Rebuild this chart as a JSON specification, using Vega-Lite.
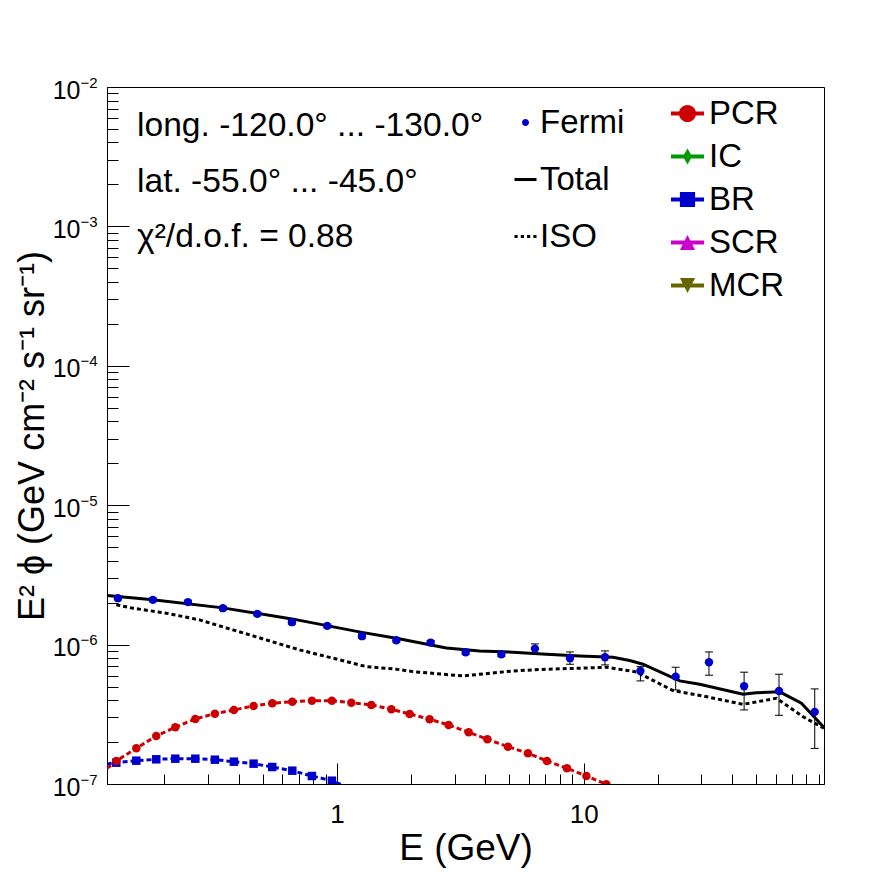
{
  "$schema": "https://vega.github.io/schema/vega-lite/v6.json",
  "width": 717,
  "height": 697,
  "autosize": {"type": "none"},
  "padding": {"left": 107, "top": 87, "right": 72, "bottom": 88},
  "background": "white",
  "config": {
    "view": {"stroke": "black", "strokeWidth": 1},
    "font": "Liberation Sans"
  },
  "title": {
    "text": ["long. -120.0° ... -130.0°", "lat. -55.0° ... -45.0°", "χ²/d.o.f. = 0.88"],
    "anchor": "start",
    "frame": "group",
    "orient": "top",
    "offset": 0,
    "dx": 30,
    "dy": 206,
    "baseline": "alphabetic",
    "lineHeight": 55.5,
    "fontSize": 33.6,
    "font": "Liberation Sans",
    "fontWeight": "normal",
    "color": "black"
  },
  "datasets": {
    "fermi": [
      {"s": "Fermi", "E": 0.1295, "v": 2.153e-6, "lo": 2.09e-6, "hi": 2.22e-6},
      {"s": "Fermi", "E": 0.1795, "v": 2.094e-6, "lo": 2.03e-6, "hi": 2.16e-6},
      {"s": "Fermi", "E": 0.2489, "v": 2.016e-6, "lo": 1.96e-6, "hi": 2.08e-6},
      {"s": "Fermi", "E": 0.345, "v": 1.825e-6, "lo": 1.77e-6, "hi": 1.88e-6},
      {"s": "Fermi", "E": 0.4757, "v": 1.661e-6, "lo": 1.61e-6, "hi": 1.71e-6},
      {"s": "Fermi", "E": 0.657, "v": 1.448e-6, "lo": 1.40e-6, "hi": 1.49e-6},
      {"s": "Fermi", "E": 0.914, "v": 1.362e-6, "lo": 1.32e-6, "hi": 1.40e-6},
      {"s": "Fermi", "E": 1.263, "v": 1.149e-6, "lo": 1.11e-6, "hi": 1.19e-6},
      {"s": "Fermi", "E": 1.741, "v": 1.075e-6, "lo": 1.04e-6, "hi": 1.11e-6},
      {"s": "Fermi", "E": 2.398, "v": 1.034e-6, "lo": 1.00e-6, "hi": 1.07e-6},
      {"s": "Fermi", "E": 3.325, "v": 8.82e-7, "lo": 8.5e-7, "hi": 9.15e-7},
      {"s": "Fermi", "E": 4.639, "v": 8.53e-7, "lo": 8.2e-7, "hi": 8.9e-7},
      {"s": "Fermi", "E": 6.347, "v": 9.36e-7, "lo": 8.68e-7, "hi": 1.012e-6},
      {"s": "Fermi", "E": 8.80, "v": 7.99e-7, "lo": 7.23e-7, "hi": 8.86e-7},
      {"s": "Fermi", "E": 12.20, "v": 8.12e-7, "lo": 7.15e-7, "hi": 9.01e-7},
      {"s": "Fermi", "E": 16.98, "v": 6.47e-7, "lo": 5.49e-7, "hi": 6.95e-7},
      {"s": "Fermi", "E": 23.6, "v": 5.89e-7, "lo": 4.73e-7, "hi": 6.88e-7},
      {"s": "Fermi", "E": 32.2, "v": 7.47e-7, "lo": 6.03e-7, "hi": 8.86e-7},
      {"s": "Fermi", "E": 44.7, "v": 5.03e-7, "lo": 3.40e-7, "hi": 6.34e-7},
      {"s": "Fermi", "E": 61.9, "v": 4.65e-7, "lo": 3.11e-7, "hi": 6.13e-7},
      {"s": "Fermi", "E": 86.4, "v": 3.29e-7, "lo": 1.80e-7, "hi": 4.81e-7}
    ],
    "total": [
      {"E": 0.117, "v": 2.247e-6}, {"E": 0.1795, "v": 2.094e-6}, {"E": 0.345, "v": 1.834e-6},
      {"E": 0.657, "v": 1.529e-6}, {"E": 1.263, "v": 1.224e-6}, {"E": 1.741, "v": 1.111e-6},
      {"E": 2.777, "v": 9.47e-7}, {"E": 3.787, "v": 9.01e-7}, {"E": 5.169, "v": 8.82e-7},
      {"E": 7.06, "v": 8.53e-7}, {"E": 9.634, "v": 8.30e-7}, {"E": 13.15, "v": 8.12e-7},
      {"E": 15.37, "v": 7.68e-7}, {"E": 17.39, "v": 7.23e-7}, {"E": 24.51, "v": 5.49e-7},
      {"E": 29.53, "v": 5.20e-7}, {"E": 44.23, "v": 4.41e-7}, {"E": 50.12, "v": 4.52e-7},
      {"E": 62.3, "v": 4.58e-7}, {"E": 76.3, "v": 3.80e-7}, {"E": 94.2, "v": 2.54e-7}
    ],
    "iso": [
      {"E": 0.1276, "v": 1.928e-6}, {"E": 0.149, "v": 1.825e-6}, {"E": 0.2035, "v": 1.680e-6},
      {"E": 0.2777, "v": 1.504e-6}, {"E": 0.3789, "v": 1.275e-6}, {"E": 0.5173, "v": 1.081e-6},
      {"E": 0.7059, "v": 9.16e-7}, {"E": 0.9634, "v": 7.99e-7}, {"E": 1.316, "v": 6.95e-7},
      {"E": 1.741, "v": 6.66e-7}, {"E": 2.033, "v": 6.40e-7}, {"E": 3.241, "v": 5.96e-7},
      {"E": 5.169, "v": 6.47e-7}, {"E": 7.06, "v": 6.66e-7}, {"E": 9.634, "v": 6.77e-7},
      {"E": 12.36, "v": 6.88e-7}, {"E": 16.35, "v": 6.37e-7}, {"E": 23.01, "v": 4.68e-7},
      {"E": 30.45, "v": 4.28e-7}, {"E": 44.23, "v": 3.73e-7}, {"E": 60.4, "v": 4.12e-7},
      {"E": 77.4, "v": 3.04e-7}, {"E": 94.2, "v": 2.51e-7}
    ],
    "models": [
      {"c": "PCR", "E": 0.117, "v": 1.296e-7, "mk": 0},
      {"c": "PCR", "E": 0.1276, "v": 1.463e-7, "mk": 1},
      {"c": "PCR", "E": 0.1538, "v": 1.804e-7, "mk": 1},
      {"c": "PCR", "E": 0.1853, "v": 2.211e-7, "mk": 1},
      {"c": "PCR", "E": 0.2213, "v": 2.553e-7, "mk": 1},
      {"c": "PCR", "E": 0.2667, "v": 2.929e-7, "mk": 1},
      {"c": "PCR", "E": 0.3202, "v": 3.197e-7, "mk": 1},
      {"c": "PCR", "E": 0.3824, "v": 3.399e-7, "mk": 1},
      {"c": "PCR", "E": 0.4596, "v": 3.630e-7, "mk": 1},
      {"c": "PCR", "E": 0.547, "v": 3.796e-7, "mk": 1},
      {"c": "PCR", "E": 0.6595, "v": 3.898e-7, "mk": 1},
      {"c": "PCR", "E": 0.7917, "v": 3.963e-7, "mk": 1},
      {"c": "PCR", "E": 0.9543, "v": 3.963e-7, "mk": 1},
      {"c": "PCR", "E": 1.144, "v": 3.834e-7, "mk": 1},
      {"c": "PCR", "E": 1.379, "v": 3.691e-7, "mk": 1},
      {"c": "PCR", "E": 1.662, "v": 3.438e-7, "mk": 1},
      {"c": "PCR", "E": 1.971, "v": 3.181e-7, "mk": 1},
      {"c": "PCR", "E": 2.375, "v": 2.914e-7, "mk": 1},
      {"c": "PCR", "E": 2.837, "v": 2.652e-7, "mk": 1},
      {"c": "PCR", "E": 3.419, "v": 2.350e-7, "mk": 1},
      {"c": "PCR", "E": 4.071, "v": 2.094e-7, "mk": 1},
      {"c": "PCR", "E": 4.934, "v": 1.852e-7, "mk": 1},
      {"c": "PCR", "E": 5.946, "v": 1.661e-7, "mk": 1},
      {"c": "PCR", "E": 7.10, "v": 1.463e-7, "mk": 1},
      {"c": "PCR", "E": 8.556, "v": 1.296e-7, "mk": 1},
      {"c": "PCR", "E": 10.26, "v": 1.141e-7, "mk": 1},
      {"c": "PCR", "E": 12.36, "v": 0.995e-7, "mk": 1},
      {"c": "PCR", "E": 14.8, "v": 8.76e-8, "mk": 0},
      {"c": "BR", "E": 0.1167, "v": 1.392e-7, "mk": 0},
      {"c": "BR", "E": 0.1276, "v": 1.422e-7, "mk": 1},
      {"c": "BR", "E": 0.1538, "v": 1.470e-7, "mk": 1},
      {"c": "BR", "E": 0.1853, "v": 1.504e-7, "mk": 1},
      {"c": "BR", "E": 0.2213, "v": 1.519e-7, "mk": 1},
      {"c": "BR", "E": 0.2667, "v": 1.519e-7, "mk": 1},
      {"c": "BR", "E": 0.3202, "v": 1.494e-7, "mk": 1},
      {"c": "BR", "E": 0.3824, "v": 1.446e-7, "mk": 1},
      {"c": "BR", "E": 0.4596, "v": 1.399e-7, "mk": 1},
      {"c": "BR", "E": 0.547, "v": 1.324e-7, "mk": 1},
      {"c": "BR", "E": 0.6595, "v": 1.246e-7, "mk": 1},
      {"c": "BR", "E": 0.7917, "v": 1.141e-7, "mk": 1},
      {"c": "BR", "E": 0.9543, "v": 1.056e-7, "mk": 1},
      {"c": "BR", "E": 1.126, "v": 9.36e-8, "mk": 0}
    ]
  },
  "encoding": {
    "x": {
      "field": "E", "type": "quantitative",
      "scale": {"type": "log", "domain": [0.117, 94.2], "nice": false, "zero": false},
      "axis": {
        "title": "E (GeV)",
        "values": [0.2,0.3,0.4,0.5,0.6,0.7,0.8,0.9,1,2,3,4,5,6,7,8,9,10,20,30,40,50,60,70,80,90],
        "labelExpr": "datum.value == 1 ? '1' : (datum.value == 10 ? '10' : '')",
        "tickSize": {"condition": {"test": "datum.value == 1 || datum.value == 10", "value": -21}, "value": -10},
        "tickColor": "black", "domainColor": "black", "grid": false,
        "labelFont": "Liberation Sans", "labelFontSize": 26, "labelColor": "black",
        "labelPadding": 38, "labelOverlap": false, "labelFlush": false, "labelBound": false,
        "titleFont": "Liberation Sans", "titleFontSize": 37, "titleFontWeight": "normal", "titleColor": "black",
        "titlePadding": -8
      }
    },
    "y": {
      "field": "v", "type": "quantitative",
      "scale": {"type": "log", "domain": [1e-7, 1e-2], "nice": false, "zero": false},
      "axis": null
    }
  },
  "layer": [
    {
      "data": {"name": "iso"},
      "mark": {"type": "line", "color": "black", "strokeWidth": 3, "strokeDash": [4, 3], "clip": true},
      "encoding": {
        "y": {
          "field": "v", "type": "quantitative",
          "scale": {"type": "log", "domain": [1e-7, 1e-2], "nice": false, "zero": false},
          "axis": {
            "orient": "left",
            "title": "E² ϕ (GeV cm⁻² s⁻¹ sr⁻¹)",
            "values": [1e-7,2e-7,3e-7,4e-7,5e-7,6e-7,7e-7,8e-7,9e-7,1e-6,2e-6,3e-6,4e-6,5e-6,6e-6,7e-6,8e-6,9e-6,1e-5,2e-5,3e-5,4e-5,5e-5,6e-5,7e-5,8e-5,9e-5,1e-4,2e-4,3e-4,4e-4,5e-4,6e-4,7e-4,8e-4,9e-4,1e-3,2e-3,3e-3,4e-3,5e-3,6e-3,7e-3,8e-3,9e-3,1e-2],
            "labelExpr": "abs(log(datum.value)/LN10 - round(log(datum.value)/LN10)) < 0.001 ? '10' : ''",
            "tickSize": {"condition": {"test": "abs(log(datum.value)/LN10 - round(log(datum.value)/LN10)) < 0.001", "value": -22}, "value": -11},
            "tickColor": "black", "domainColor": "black", "grid": false,
            "labelFont": "Liberation Sans", "labelFontSize": 25, "labelColor": "black",
            "labelPadding": 49, "labelOffset": 3, "labelOverlap": false, "labelFlush": false, "labelBound": false,
            "titleFont": "Liberation Sans", "titleFontSize": 36, "titleFontWeight": "normal", "titleColor": "black",
            "titlePadding": 1
          }
        }
      }
    },
    {
      "data": {"name": "total"},
      "mark": {"type": "line", "color": "black", "strokeWidth": 3, "clip": true},
      "encoding": {
        "y": {
          "field": "v", "type": "quantitative",
          "scale": {"type": "log", "domain": [1e-7, 1e-2], "nice": false, "zero": false},
          "axis": {
            "orient": "left",
            "title": null,
            "values": [1e-7, 1e-6, 1e-5, 1e-4, 1e-3, 1e-2],
            "labelExpr": "['−7','−6','−5','−4','−3','−2'][round(log(datum.value)/LN10) + 7]",
            "ticks": false, "domain": false, "grid": false,
            "labelFont": "Liberation Sans", "labelFontSize": 15, "labelColor": "black",
            "labelPadding": 10, "labelOffset": -5, "labelOverlap": false, "labelFlush": false, "labelBound": false
          }
        }
      }
    },
    {
      "data": {"name": "models"},
      "mark": {"type": "line", "strokeWidth": 3, "strokeDash": [5, 3], "clip": true},
      "encoding": {
        "color": {"field": "c", "type": "nominal",
          "scale": {"domain": ["PCR", "IC", "BR", "SCR", "MCR"], "range": ["#cc0000", "#009900", "#0000cc", "#cc00cc", "#666600"]},
          "legend": null}
      }
    },
    {
      "data": {"name": "models"},
      "transform": [{"filter": "datum.mk == 1 && datum.c == 'BR'"}],
      "mark": {"type": "point", "filled": true, "opacity": 1, "clip": true, "strokeWidth": 0, "shape": "square"},
      "encoding": {
        "color": {"field": "c", "type": "nominal",
          "scale": {"domain": ["PCR", "IC", "BR", "SCR", "MCR"], "range": ["#cc0000", "#009900", "#0000cc", "#cc00cc", "#666600"]},
          "legend": null},
        "size": {"value": 72}
      }
    },
    {
      "data": {"name": "models"},
      "transform": [{"filter": "datum.mk == 1 && datum.c == 'PCR'"}],
      "mark": {"type": "point", "filled": true, "opacity": 1, "clip": true, "strokeWidth": 0, "shape": "circle"},
      "encoding": {
        "color": {"field": "c", "type": "nominal",
          "scale": {"domain": ["PCR", "IC", "BR", "SCR", "MCR"], "range": ["#cc0000", "#009900", "#0000cc", "#cc00cc", "#666600"]},
          "legend": {
            "title": null, "orient": "none", "legendX": 564, "legendY": 10,
            "padding": 0, "symbolSize": 1089, "symbolStrokeWidth": 0, "symbolOpacity": 1,
            "labelFont": "Liberation Sans", "labelFontSize": 33, "labelColor": "black", "labelOffset": 5, "labelLimit": 0,
            "rowPadding": 9,
            "encode": {"symbols": {"update": {"shape": {"signal": "datum.value === 'PCR' ? 'M-1,-0.12H1V0.12H-1Z M0.52,0A0.52,0.52 0 1,1 -0.52,0A0.52,0.52 0 1,1 0.52,0Z' : datum.value === 'IC' ? 'M-1,-0.12H1V0.12H-1Z M0,-0.48L0.28,0L0,0.48L-0.28,0Z' : datum.value === 'BR' ? 'M-1,-0.12H1V0.12H-1Z M-0.46,-0.46H0.46V0.46H-0.46Z' : datum.value === 'SCR' ? 'M-1,-0.12H1V0.12H-1Z M0,-0.46L0.46,0.46H-0.46Z' : 'M-1,-0.12H1V0.12H-1Z M-0.46,-0.46H0.46L0,0.46Z'"}}}}
          }},
        "size": {"value": 72}
      }
    },
    {
      "data": {"name": "fermi"},
      "mark": {"type": "rule", "color": "black", "strokeWidth": 1, "opacity": 1},
      "encoding": {
        "y": {"field": "lo", "type": "quantitative", "scale": {"type": "log", "domain": [1e-7, 1e-2], "nice": false, "zero": false}, "axis": null},
        "y2": {"field": "hi"}
      }
    },
    {
      "data": {"name": "fermi"},
      "transform": [{"fold": ["lo", "hi"], "as": ["which", "ev"]}],
      "mark": {"type": "tick", "color": "black", "thickness": 1, "size": 8, "opacity": 1, "orient": "horizontal"},
      "encoding": {
        "y": {"field": "ev", "type": "quantitative", "scale": {"type": "log", "domain": [1e-7, 1e-2], "nice": false, "zero": false}, "axis": null}
      }
    },
    {
      "data": {"name": "fermi"},
      "mark": {"type": "point", "filled": true, "opacity": 1, "shape": "circle", "strokeWidth": 0, "clip": true},
      "encoding": {
        "color": {"field": "s", "type": "nominal",
          "scale": {"domain": ["Fermi", "Total", "ISO"], "range": ["#0000cc", "#000000", "#000000"]},
          "legend": {
            "title": null, "orient": "none", "legendX": 402, "legendY": 19,
            "padding": 0, "symbolSize": 484, "symbolStrokeWidth": 0, "symbolOpacity": 1,
            "labelFont": "Liberation Sans", "labelFontSize": 33, "labelColor": "black", "labelOffset": -2, "labelLimit": 0,
            "rowPadding": 23,
            "encode": {"symbols": {"update": {"shape": {"signal": "datum.value === 'Fermi' ? 'M0.32,0A0.32,0.32 0 1,1 -0.32,0A0.32,0.32 0 1,1 0.32,0Z' : datum.value === 'Total' ? 'M-1,-0.14H1V0.14H-1Z' : 'M-1,-0.14H-0.71V0.14H-1Z M-0.43,-0.14H-0.14V0.14H-0.43Z M0.14,-0.14H0.43V0.14H0.14Z M0.71,-0.14H1V0.14H0.71Z'"}}}}
          }},
        "size": {"value": 70}
      }
    }
  ],
  "resolve": {"scale": {"color": "independent"}, "axis": {"y": "independent"}}
}
